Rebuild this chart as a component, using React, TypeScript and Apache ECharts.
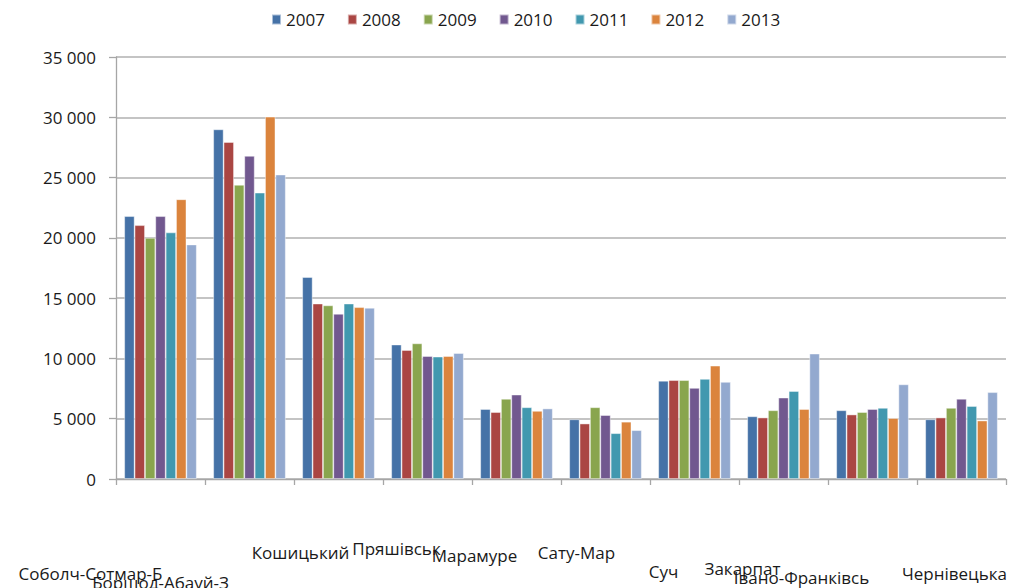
import React, { useEffect, useRef } from "react";
import * as echarts from "echarts";

const categories = [
  "Соболч-Сотмар-Б",
  "Борщод-Абауй-З",
  "Кошицький",
  "Пряшівськ",
  "Марамуре",
  "Сату-Мар",
  "Суч",
  "Закарпат",
  "Івано-Франківсь",
  "Чернівецька",
];

const years = ["2007", "2008", "2009", "2010", "2011", "2012", "2013"];

const v2007 = [21800, 29000, 16750, 11150, 5800, 4950, 8150, 5200, 5700, 4950];
const v2008 = [21050, 27950, 14550, 10700, 5550, 4600, 8200, 5100, 5350, 5100];
const v2009 = [20000, 24400, 14400, 11250, 6650, 5950, 8200, 5700, 5550, 5900];
const v2010 = [21800, 26800, 13700, 10200, 7000, 5300, 7550, 6750, 5800, 6650];
const v2011 = [20450, 23750, 14550, 10150, 5950, 3800, 8300, 7300, 5900, 6050];
const v2012 = [23200, 30050, 14250, 10200, 5650, 4750, 9400, 5800, 5050, 4850];
const v2013 = [19450, 25250, 14200, 10450, 5850, 4050, 8050, 10400, 7850, 7200];

const seriesValues = [v2007, v2008, v2009, v2010, v2011, v2012, v2013];

const colors = ["#4572A7", "#AA4643", "#89A54E", "#71588F", "#4198AF", "#DB843D", "#93A9CF"];

// label layout (style only): horizontal shift and vertical centre for each category label
const labelShiftX = [-70, -89, -38, -31, -42, -29, -31, -41, -71, -7];
const labelCenterY = [573, 582, 552, 548, 555, 552, 571, 568, 577, 573];

const AXIS_Y = 479;
const LINE_H = 20;

const fmt = (v: number) => String(v).replace(/\B(?=(\d{3})+(?!\d))/g, " ");

export default function App() {
  const ref = useRef<HTMLDivElement>(null);

  useEffect(() => {
    if (!ref.current) return;
    document.documentElement.style.overflow = "hidden";
    document.body.style.margin = "0";
    document.body.style.overflow = "hidden";
    const chart = echarts.init(ref.current, undefined, { renderer: "svg" });

    const rich: Record<string, any> = {};
    categories.forEach((_, i) => {
      const d = labelShiftX[i];
      const top = Math.max(0, 2 * (labelCenterY[i] - AXIS_Y - LINE_H / 2));
      rich["c" + i] = {
        fontFamily: "Open Sans",
        fontSize: 17,
        color: "#1a1a1a",
        lineHeight: LINE_H,
        padding: [top, d < 0 ? -2 * d : 0, 0, d > 0 ? 2 * d : 0],
      };
    });

    chart.setOption({
      animation: false,
      color: colors,
      textStyle: { fontFamily: "Open Sans" },
      legend: {
        left: 266,
        top: 6,
        itemWidth: 9,
        itemHeight: 10,
        itemGap: 22,
        icon: "rect",
        textStyle: { fontSize: 17, color: "#1a1a1a", fontFamily: "Open Sans" },
        data: years,
      },
      grid: { left: 116, right: 6, top: 57, bottom: 109, containLabel: false, outerBoundsMode: "none" },
      xAxis: {
        type: "category",
        data: categories,
        axisLine: { lineStyle: { color: "#a6a6a6", width: 1.3 } },
        axisTick: { show: true, length: 6, lineStyle: { color: "#a6a6a6", width: 1.3 } },
        axisLabel: {
          interval: 0,
          margin: 0,
          align: "center",
          verticalAlign: "top",
          formatter: (value: string, index: number) => `{c${index}|${value}}`,
          rich,
        },
      },
      yAxis: {
        type: "value",
        min: 0,
        max: 35000,
        interval: 5000,
        axisLine: { show: true, lineStyle: { color: "#a6a6a6", width: 1.3 } },
        axisTick: { show: true, length: 7, lineStyle: { color: "#a6a6a6", width: 1.3 } },
        axisLabel: {
          margin: 20,
          fontSize: 17,
          color: "#1a1a1a",
          fontFamily: "Open Sans",
          formatter: (v: number) => fmt(v),
        },
        splitLine: { show: true, lineStyle: { color: "#b0b0b0", width: 1.5 } },
      },
      series: years.map((y, i) => ({
        name: y,
        type: "bar",
        data: seriesValues[i],
        barGap: "0%",
        barCategoryGap: "18.5%",
        itemStyle: { color: colors[i], borderColor: "rgba(255,255,255,0.55)", borderWidth: 0.8 },
      })),
    });

    return () => chart.dispose();
  }, []);

  return (
    <div
      ref={ref}
      style={{ position: "fixed", left: 0, top: 0, width: "100vw", height: "100vh", background: "#fff", overflow: "hidden" }}
    />
  );
}
